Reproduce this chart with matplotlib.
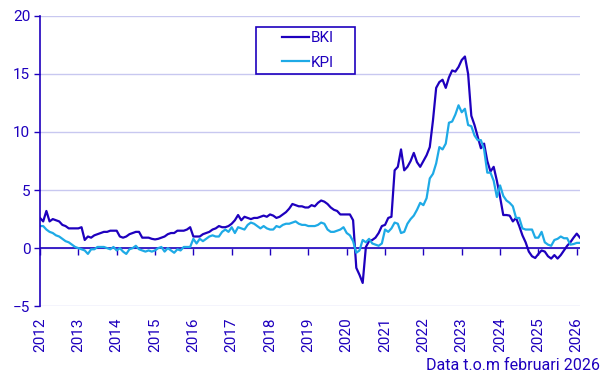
import numpy as np
import matplotlib
matplotlib.use("Agg")
import matplotlib.pyplot as plt
from matplotlib.patches import Rectangle

plt.rcParams['font.family'] = ['Roboto', 'DejaVu Sans']

# monthly values, jan 2012 - feb 2026
bki = [
    2.6, 2.3, 3.2, 2.3, 2.5, 2.4, 2.3, 2.0, 1.9, 1.7, 1.7, 1.7,        # 2012
    1.7, 1.8, 0.7, 1.0, 0.9, 1.1, 1.2, 1.3, 1.4, 1.4, 1.5, 1.5,        # 2013
    1.5, 1.0, 0.9, 1.0, 1.2, 1.3, 1.4, 1.4, 0.9, 0.9, 0.9, 0.8,        # 2014
    0.75, 0.8, 0.9, 1.0, 1.2, 1.3, 1.3, 1.5, 1.5, 1.5, 1.6, 1.8,       # 2015
    1.0, 1.0, 1.0, 1.2, 1.3, 1.4, 1.6, 1.7, 1.9, 1.8, 1.8, 1.9,        # 2016
    2.1, 2.4, 2.85, 2.4, 2.7, 2.6, 2.5, 2.6, 2.6, 2.7, 2.8, 2.7,       # 2017
    2.9, 2.8, 2.6, 2.7, 2.9, 3.1, 3.4, 3.8, 3.7, 3.6, 3.6, 3.5,        # 2018
    3.5, 3.7, 3.6, 3.9, 4.1, 4.0, 3.8, 3.5, 3.3, 3.2, 2.9, 2.9,        # 2019
    2.9, 2.9, 2.4, -1.7, -2.3, -3.0, 0.1, 0.6, 0.7, 0.9, 1.3, 1.9,     # 2020
    2.0, 2.6, 2.7, 6.7, 7.0, 8.5, 6.7, 7.0, 7.5, 8.2, 7.4, 7.0,        # 2021
    7.5, 8.0, 8.7, 11.0, 13.8, 14.3, 14.5, 13.8, 14.7, 15.3, 15.2, 15.6,  # 2022
    16.2, 16.5, 15.0, 11.4, 10.6, 9.6, 8.6, 9.0, 7.5, 6.6, 7.0, 5.8,   # 2023
    4.4, 2.85, 2.85, 2.8, 2.3, 2.6, 1.9, 1.1, 0.5, -0.3, -0.7, -0.85,  # 2024
    -0.5, -0.2, -0.3, -0.7, -0.9, -0.6, -0.9, -0.6, -0.2, 0.2, 0.5, 0.9,  # 2025
    1.25, 0.9,                                                          # 2026
]
kpi = [
    1.9, 1.9, 1.6, 1.4, 1.3, 1.1, 1.0, 0.8, 0.6, 0.5, 0.3, 0.1,        # 2012
    0.0, -0.1, -0.2, -0.5, -0.1, -0.1, 0.1, 0.1, 0.1, 0.0, -0.1, 0.1,  # 2013
    -0.2, 0.0, -0.3, -0.5, -0.1, 0.0, 0.2, -0.1, -0.2, -0.3, -0.2, -0.3,  # 2014
    -0.2, 0.0, 0.1, -0.3, 0.0, -0.2, -0.4, -0.1, -0.2, 0.1, 0.1, 0.1,  # 2015
    0.8, 0.4, 0.8, 0.6, 0.8, 1.0, 1.1, 1.0, 1.0, 1.4, 1.6, 1.4,        # 2016
    1.8, 1.3, 1.8, 1.7, 1.6, 2.0, 2.2, 2.1, 1.9, 1.7, 1.9, 1.7,        # 2017
    1.6, 1.6, 1.9, 1.8, 2.0, 2.1, 2.1, 2.2, 2.3, 2.1, 2.0, 2.0,        # 2018
    1.9, 1.9, 1.9, 2.0, 2.2, 2.1, 1.6, 1.4, 1.4, 1.5, 1.6, 1.8,        # 2019
    1.3, 1.1, 0.6, -0.4, -0.2, 0.7, 0.5, 0.8, 0.4, 0.3, 0.2, 0.4,      # 2020
    1.6, 1.4, 1.7, 2.2, 2.1, 1.3, 1.4, 2.1, 2.5, 2.8, 3.3, 3.9,        # 2021
    3.7, 4.3, 6.0, 6.4, 7.3, 8.7, 8.5, 9.0, 10.8, 10.9, 11.5, 12.3,    # 2022
    11.7, 12.0, 10.6, 10.5, 9.7, 9.3, 9.3, 8.5, 6.5, 6.5, 5.8, 4.4,    # 2023
    5.4, 4.5, 4.1, 3.9, 3.6, 2.6, 2.6, 1.7, 1.6, 1.6, 1.6, 0.9,        # 2024
    0.9, 1.4, 0.5, 0.3, 0.2, 0.7, 0.8, 1.0, 0.85, 0.85, 0.3, 0.35,     # 2025
    0.45, 0.45,                                                         # 2026
]
years = list(range(2012, 2027))
yticks = [-5, 0, 5, 10, 15, 20]

blue = '#1e00be'
light = '#1eaae6'
grid = '#c8c8f0'

t = 2012 + np.arange(len(bki)) / 12

W, H = 606, 378
fig = plt.figure(figsize=(W / 100, H / 100), dpi=100)
ax = fig.add_axes([0.066, 0.19, 0.891, 0.768])

ax.plot(t, bki, color=blue, lw=1.6, label='BKI')
ax.plot(t, kpi, color=light, lw=1.6, label='KPI')

ax.set_xlim(2012, t[-1])
ax.set_ylim(-5, 20)
ax.set_yticks(yticks)
ax.yaxis.grid(True, color=grid, lw=1)
ax.set_axisbelow(True)
ax.axhline(0, color=blue, lw=1.2, zorder=1)

for s in ['top', 'right', 'bottom']:
    ax.spines[s].set_visible(False)
ax.spines['left'].set_color(blue)
ax.spines['left'].set_linewidth(1.2)

ax.set_xticks(years)
ax.set_xticklabels([str(y) for y in years], rotation=90)
ax.tick_params(axis='x', length=0, pad=8, labelsize=11, labelcolor=blue)
ax.tick_params(axis='y', length=4, width=1, color=blue, labelsize=11,
               labelcolor=blue, pad=3)

# tick marks on the zero line
sec = ax.secondary_xaxis(0.2)
sec.set_xticks(years)
sec.tick_params(length=5, width=1, color=blue, labelbottom=False)
sec.spines['bottom'].set_visible(False)

# legend without its own frame, box drawn separately
leg = ax.legend(loc='upper left', bbox_to_anchor=(282 / W, 1 - 31 / H),
                bbox_transform=fig.transFigure, fontsize=11, frameon=False,
                handlelength=1.75, handletextpad=0.15, borderpad=0,
                borderaxespad=0, labelspacing=0.7)
for txt in leg.get_texts():
    txt.set_color(blue)
fig.patches.append(Rectangle((256 / W, 1 - 74 / H), 99 / W, 47 / H,
                             transform=fig.transFigure, fill=False,
                             edgecolor=blue, lw=1.2))

fig.text(0.99, 0.012, 'Data t.o.m februari 2026', ha='right', va='bottom',
         fontsize=11.5, color=blue)

fig.savefig('out.png', dpi=100)
